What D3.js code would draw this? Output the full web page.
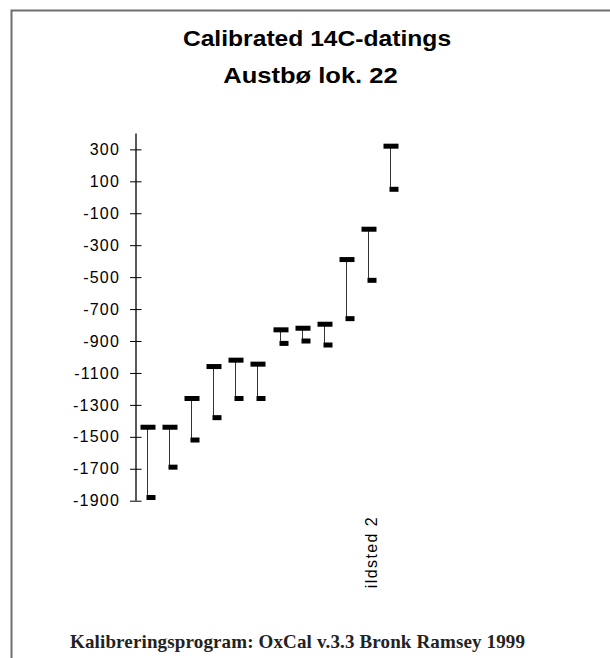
<!DOCTYPE html>
<html>
<head>
<meta charset="utf-8">
<script src="https://cdn.jsdelivr.net/npm/d3@7"></script>
<style>
  body { margin: 0; background: #fff; }
  svg { display: block; }
</style>
</head>
<body>
<svg width="610" height="658"></svg>
<script>
// calibrated ranges (cal BC/AD), one per sample
var labels = ["", "", "", "", "", "", "", "", "", "", "ildsted 2", ""];
var tops = [-1440, -1440, -1260, -1060, -1020, -1045, -830, -820, -795, -390, -200, 320];
var bottoms = [-1880, -1690, -1520, -1380, -1260, -1260, -915, -900, -925, -760, -520, 50];
var tickValues = [300, 100, -100, -300, -500, -700, -900, -1100, -1300, -1500, -1700, -1900];

var sans = "'Liberation Sans', Arial, Helvetica, sans-serif";

var svg = d3.select("svg");

svg.append("rect")
    .attr("width", 610).attr("height", 658)
    .style("fill", "#fff");

// frame, only left and top edges are visible
svg.append("path")
    .attr("d", "M11.5,660V10.5H612")
    .style("fill", "none")
    .style("stroke", "#6e6e6e")
    .style("stroke-width", 2);

// title, a bit wider than Arial like the original Helvetica
svg.append("text")
    .attr("transform", "translate(317,45.5) scale(1.12,1)")
    .attr("text-anchor", "middle")
    .style("font-family", sans)
    .style("font-weight", "bold")
    .style("font-size", "22px")
    .text("Calibrated 14C-datings");

svg.append("text")
    .attr("transform", "translate(310.5,82.5) scale(1.16,1)")
    .attr("text-anchor", "middle")
    .style("font-family", sans)
    .style("font-weight", "bold")
    .style("font-size", "22px")
    .text("Austbø lok. 22");

var x = d3.scaleBand()
    .domain(d3.range(labels.length))
    .range([136, 401]);

var y = d3.scaleLinear()
    .domain([-1900, 400])
    .range([500.7, 133.4]);

// y axis with ticks crossing the line
var yAxis = d3.axisLeft(y)
    .tickValues(tickValues)
    .tickSize(0)
    .tickPadding(16)
    .tickFormat(function (d) { return String(d); });

var gy = svg.append("g")
    .attr("transform", "translate(136,0)")
    .call(yAxis);
gy.select(".domain").remove();
gy.selectAll("text")
    .style("font-family", sans)
    .style("font-size", "16px")
    .style("letter-spacing", "1.2px")
    .style("fill", "#000");

gy.selectAll(".tick").append("line")
    .attr("x1", -6).attr("x2", 5.5)
    .style("stroke", "#000")
    .style("stroke-width", 1);

gy.append("line")
    .attr("y1", y(400)).attr("y2", y(-1900))
    .style("stroke", "#000")
    .style("stroke-width", 1.3);

// range bars
var cx = function (d, i) { return Math.round(x(i) + x.bandwidth() / 2) + 0.5; };

svg.selectAll(".range")
    .data(tops)
    .enter().append("line")
    .attr("class", "range")
    .attr("x1", cx).attr("x2", cx)
    .attr("y1", function (d) { return y(d); })
    .attr("y2", function (d, i) { return y(bottoms[i]); })
    .style("stroke", "#333")
    .style("stroke-width", 1);

svg.selectAll(".top")
    .data(tops)
    .enter().append("rect")
    .attr("class", "top")
    .attr("x", function (d, i) { return cx(d, i) - 7; })
    .attr("y", function (d) { return y(d) - 2.5; })
    .attr("width", 15).attr("height", 5)
    .style("fill", "#000");

svg.selectAll(".bottom")
    .data(bottoms)
    .enter().append("rect")
    .attr("class", "bottom")
    .attr("x", function (d, i) { return cx(d, i) - 1; })
    .attr("y", function (d) { return y(d) - 2.5; })
    .attr("width", 9).attr("height", 5)
    .style("fill", "#000");

// category labels (only one is named)
svg.selectAll(".cat")
    .data(labels)
    .enter().append("text")
    .attr("class", "cat")
    .attr("transform", function (d, i) {
        return "translate(" + (cx(d, i) + 8) + ",516) rotate(-90)";
    })
    .attr("text-anchor", "end")
    .style("font-family", sans)
    .style("font-size", "16px")
    .style("letter-spacing", "1.4px")
    .text(function (d) { return d; });

svg.append("text")
    .attr("x", 70).attr("y", 647.5)
    .attr("textLength", 455)
    .style("font-family", "'Liberation Serif', 'Times New Roman', serif")
    .style("font-size", "19px")
    .style("font-weight", "600")
    .style("fill", "#222")
    .text("Kalibreringsprogram: OxCal v.3.3 Bronk Ramsey 1999");
</script>
</body>
</html>
